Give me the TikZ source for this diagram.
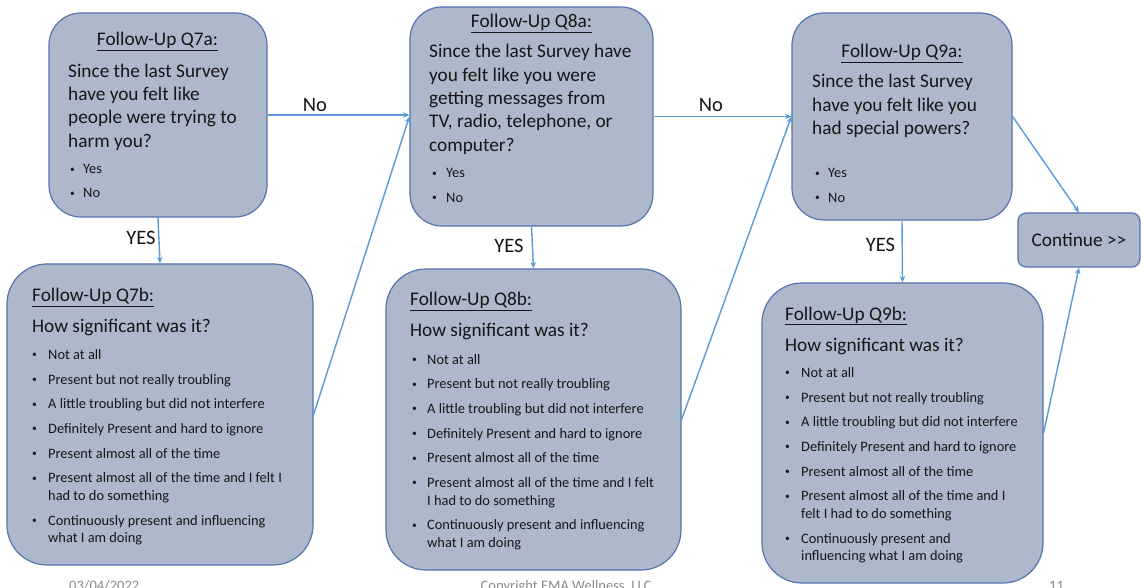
\documentclass[tikz,border=0pt]{standalone}
\usepackage{fontspec}
\setmainfont{Carlito}
\usetikzlibrary{arrows.meta}

\definecolor{boxfill}{RGB}{173,185,202}
\definecolor{boxline}{RGB}{84,115,175}
\definecolor{flow}{RGB}{91,155,213}
\definecolor{ink}{RGB}{22,22,22}
\definecolor{foot}{RGB}{140,140,140}

% stacked lines whose reference point is the first baseline
\newcommand\lines[1]{\begin{tabular}[t]{@{}l@{}}#1\end{tabular}}
% bulleted options; #1 is the indent from bullet to text
\newcommand\opts[2]{\def\bwid{#1}\begin{tabular}[t]{@{}l@{}l@{}}#2\end{tabular}}
\newcommand\blt{\makebox[\bwid][l]{\raisebox{1.6pt}{\fontsize{9.5}{10}\selectfont\textbullet}}}
% the seven severity answers; #1..#4 are the two wrapped items
\newcommand\sigitems[4]{%
  \blt & Not at all\\[7.1pt]
  \blt & Present but not really troubling\\[7.1pt]
  \blt & A little troubling but did not interfere\\[7.1pt]
  \blt & Definitely Present and hard to ignore\\[7.1pt]
  \blt & Present almost all of the time\\[7.1pt]
  \blt & #1\\ & #2\\[7.1pt]
  \blt & #3\\ & #4}

\begin{document}
\begin{tikzpicture}[x=1pt,y=-1pt,
  qbox/.style={draw=boxline, line width=1.2pt, fill=boxfill, inner sep=0pt},
  abox/.style={qbox, rounded corners=32pt},
  bbox/.style={qbox, rounded corners=40pt},
  flowline/.style={draw=flow, line width=1.4pt, -{Stealth[length=6.5pt,width=5.5pt]}},
  head/.style={font=\fontsize{19.3}{23.3}\selectfont, text=ink, inner sep=0pt},
  body/.style={font=\fontsize{19.3}{23.3}\selectfont, text=ink, inner sep=0pt, anchor=base west},
  opt/.style={font=\fontsize{14.4}{17.6}\selectfont, text=ink, inner sep=0pt, anchor=base west},
  lbl/.style={font=\fontsize{20.5}{24}\selectfont, text=ink, inner sep=0pt, anchor=base},
  footer/.style={font=\fontsize{14.5}{17}\selectfont, text=foot, inner sep=0pt}]

\useasboundingbox (0,0) rectangle (1141,588);
\clip (0,0) rectangle (1141,588);
\fill[white] (0,0) rectangle (1141,588);

% ---------- boxes ----------
\node[abox, minimum width=218, minimum height=204] (q7a) at (158,115) {};
\node[bbox, minimum width=306, minimum height=301] (q7b) at (160,414.5) {};
\node[abox, minimum width=243, minimum height=219] (q8a) at (531.5,116.5) {};
\node[bbox, minimum width=295, minimum height=301] (q8b) at (533.5,419.5) {};
\node[abox, minimum width=220, minimum height=207] (q9a) at (902,116.5) {};
\node[bbox, minimum width=281, minimum height=300] (q9b) at (902.5,433) {};
\node[qbox, rounded corners=8pt, minimum width=122, minimum height=54,
      font=\fontsize{19.3}{23.3}\selectfont, text=ink] (cont) at (1079,240) {Continue >{}>};

% ---------- Q7 ----------
\node[head, anchor=base] (q7a-t) at (157.5,46) {\underline{Follow-Up Q7a:}};
\node[body] (q7a-q) at (68,77.3) {\lines{Since the last Survey\\have you felt like\\people were trying to\\harm you?}};
\node[opt] (q7a-o) at (70,174) {\opts{13pt}{\blt & Yes\\[6.4pt] \blt & No}};

\node[head, anchor=base west] (q7b-t) at (32,301.7) {\underline{Follow-Up Q7b:}};
\node[body] (q7b-q) at (32,332.7) {How significant was it?};
\node[opt] (q7b-o) at (32,359.3) {\opts{16pt}{\sigitems{Present almost all of the time and I felt I}{had to do something}{Continuously present and influencing}{what I am doing}}};

% ---------- Q8 ----------
\node[head, anchor=base] (q8a-t) at (531.5,28) {\underline{Follow-Up Q8a:}};
\node[body] (q8a-q) at (429,58) {\lines{Since the last Survey have\\you felt like you were\\getting messages from\\TV, radio, telephone, or\\computer?}};
\node[opt] (q8a-o) at (432,178) {\opts{14pt}{\blt & Yes\\[7pt] \blt & No}};

\node[head, anchor=base west] (q8b-t) at (410,305.7) {\underline{Follow-Up Q8b:}};
\node[body] (q8b-q) at (410,336.7) {How significant was it?};
\node[opt] (q8b-o) at (412,364) {\opts{15pt}{\sigitems{Present almost all of the time and I felt}{I had to do something}{Continuously present and influencing}{what I am doing}}};

% ---------- Q9 ----------
\node[head, anchor=base] (q9a-t) at (902,58) {\underline{Follow-Up Q9a:}};
\node[body] (q9a-q) at (812,88) {\lines{Since the last Survey\\have you felt like you\\had special powers?}};
\node[opt] (q9a-o) at (815,178) {\opts{13pt}{\blt & Yes\\[7pt] \blt & No}};

\node[head, anchor=base west] (q9b-t) at (785,320) {\underline{Follow-Up Q9b:}};
\node[body] (q9b-q) at (785,351) {How significant was it?};
\node[opt] (q9b-o) at (785,377.3) {\opts{16pt}{\sigitems{Present almost all of the time and I}{felt I had to do something}{Continuously present and}{influencing what I am doing}}};

% ---------- connectors ----------
\draw[flowline] (q7a.east) -- (q7a.east -| q8a.west);
\draw[flowline] (q7a.south) -- (q7b.north);
\draw[flowline] (q7b.east) -- (q8a.west);
\draw[flowline] (q8a.east) -- (q8a.east -| q9a.west);
\draw[flowline] (q8a.south) -- (q8b.north);
\draw[flowline] (q8b.east) -- (q9a.west);
\draw[flowline] (q9a.south) -- (q9b.north);
\draw[flowline] (q9a.east) -- (cont.north);
\draw[flowline] (q9b.east) -- (cont.south);

\node[lbl] (no1) at (315,112) {No};
\node[lbl] (no2) at (711,112) {No};
\node[lbl] (yes1) at (141,245) {YES};
\node[lbl] (yes2) at (509,253) {YES};
\node[lbl] (yes3) at (880.5,252) {YES};

% ---------- footer ----------
\node[footer, anchor=base west] (date) at (69,590) {03/04/2022};
\node[footer, anchor=base] (copy) at (566,590) {Copyright EMA Wellness, LLC};
\node[footer, anchor=base west] (page) at (1049,590) {11};
\end{tikzpicture}
\end{document}
